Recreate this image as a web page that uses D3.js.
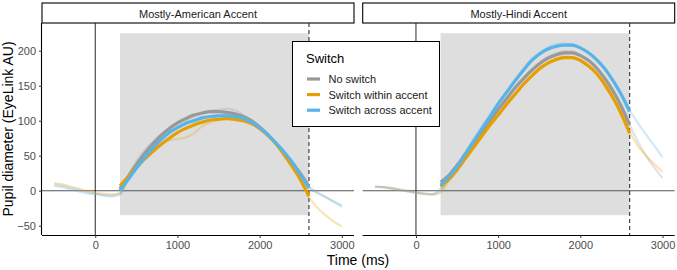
<!DOCTYPE html>
<html><head><meta charset="utf-8">
<script src="https://cdn.jsdelivr.net/npm/d3@7"></script>
<style>
html,body{margin:0;padding:0;background:#fff;}
svg{display:block;font-family:"Liberation Sans",Arial,sans-serif;}
</style></head>
<body><svg id="chart" width="677" height="270"></svg>
<script>
// ---------------- DATA ----------------
const panels = ["Mostly-American Accent", "Mostly-Hindi Accent"];
const seriesNames = ["No switch", "Switch within accent", "Switch across accent"];
const seriesColors = ["#999999", "#E69F00", "#56B4E9"];
const xTicks = [0, 1000, 2000, 3000];
const yTicks = [-50, 0, 50, 100, 150, 200];
const windowStart = 300, windowEnd = 2600, windowLow = -35, windowHigh = 225;

const fitTimes = [300,400,500,600,700,800,900,1000,1100,1200,1300,1400,1500,1600,1700,1800,1900,2000,2100,2200,2300,2400,2500,2600];
const rawTimes = [-500,-400,-300,-200,-100,0,100,200,300,400,500,600,700,800,900,1000,1100,1200,1300,1400,1500,1600,1700,1800,1900,2000,2100,2200,2300,2400,2500,2600,2700,2800,2900,3000];

// fitted curves (thick)
const fitAmNone   = [3,20,37,53,67,79,89,97,103,108,111,113,113,112,110,106,100,91,80,67,53,39,24,6];
const fitAmWithin = [7,20,33,45,56,66,75,83,89,94,98,101,102,103,102,100,96,89,79,67,51,34,15,-8];
const fitAmAcross = [0,16,32,47,61,73,83,90,96,100,104,106,107,107,106,103,98,90,80,68,55,40,22,4];
const fitHiNone   = [12,22,36,52,68,84,100,116,131,146,159,171,181,189,194,197,197,193,186,175,160,142,120,94];
const fitHiWithin = [6,16,30,46,62,78,94,108,123,137,151,163,174,182,187,190,190,186,178,167,151,132,109,82];
const fitHiAcross = [8,20,34,52,70,88,106,124,140,156,171,185,195,202,206,208,208,204,197,187,174,157,137,113];

// raw time courses (faint)
const rawAmNone   = [9,7,4,1,-2,-4,-6,-7,-3,22,42,58,70,80,88,95,100,106,110,114,116,117,115,108,100,90,79,67,53,38,22,4,-3,-9,-15,-21];
const rawAmWithin = [11,9,6,3,0,-3,-4,-5,-4,16,32,46,60,68,72,74,76,82,92,98,101,103,102,99,95,88,78,66,50,32,14,-9,-24,-35,-44,-51];
const rawAmAcross = [7,5,2,-1,-4,-5,-7,-8,-6,18,36,52,64,74,84,91,97,101,104,106,108,108,107,104,98,90,81,69,56,41,24,6,-2,-9,-16,-23];
const rawHiNone   = [6,5,4,2,0,-2,-4,-5,3,22,38,54,70,86,101,117,132,147,160,172,183,191,196,199,199,194,186,175,160,142,120,94,70,50,33,18];
const rawHiWithin = [5,5,3,1,-1,-3,-5,-6,-3,14,28,44,60,76,92,107,122,136,150,163,174,183,189,192,191,187,179,167,152,133,110,84,64,50,38,27];
const rawHiAcross = [6,5,3,1,-1,-3,-4,-5,0,18,35,55,74,92,108,126,142,158,173,187,197,204,209,210,209,204,197,187,174,157,137,115,97,80,64,48];

const fits = [[fitAmNone, fitAmWithin, fitAmAcross],[fitHiNone, fitHiWithin, fitHiAcross]];
const raws = [[rawAmNone, rawAmWithin, rawAmAcross],[rawHiNone, rawHiWithin, rawHiAcross]];

// ---------------- LAYOUT ----------------
const svg = d3.select("#chart");
const panelLeft = [42, 362.7];
const panelW = 312;
const plotTop = 23, plotBottom = 235, stripTop = 3;

const y = d3.scaleLinear().domain([-63.3, 239.6]).range([plotBottom, plotTop]);
const fmt = d3.format("d");

panels.forEach((name, p) => {
  const x = d3.scaleLinear().domain([-648, 3148]).range([panelLeft[p], panelLeft[p] + panelW]);
  const g = svg.append("g");

  // strip
  g.append("rect").attr("x", panelLeft[p]).attr("y", stripTop).attr("width", panelW).attr("height", plotTop - stripTop)
    .attr("fill", "#fff").attr("stroke", "#000").attr("stroke-width", 1.1);
  g.append("text").attr("x", panelLeft[p] + panelW / 2).attr("y", 17.5).attr("text-anchor", "middle")
    .attr("font-size", 11).attr("fill", "#1a1a1a").text(name);

  // analysis window
  g.append("rect").attr("x", x(windowStart)).attr("y", y(windowHigh))
    .attr("width", x(windowEnd) - x(windowStart)).attr("height", y(windowLow) - y(windowHigh))
    .attr("fill", "#dedede");

  // reference lines
  g.append("line").attr("x1", panelLeft[p]).attr("x2", panelLeft[p] + panelW).attr("y1", y(0)).attr("y2", y(0))
    .attr("stroke", "#555").attr("stroke-width", 1.1);
  g.append("line").attr("x1", x(0)).attr("x2", x(0)).attr("y1", plotTop).attr("y2", plotBottom)
    .attr("stroke", "#111").attr("stroke-width", 0.9);
  g.append("line").attr("x1", x(windowEnd)).attr("x2", x(windowEnd)).attr("y1", plotTop).attr("y2", plotBottom)
    .attr("stroke", "#333").attr("stroke-width", 1.1).attr("stroke-dasharray", "4,3");

  // raw lines
  const lineRaw = d3.line().x((d, i) => x(rawTimes[i])).y(d => y(d)).curve(d3.curveMonotoneX);
  raws[p].forEach((s, k) => {
    g.append("path").attr("d", lineRaw(s)).attr("fill", "none").attr("stroke", seriesColors[k])
      .attr("stroke-width", 2.2).attr("stroke-opacity", 0.28).attr("stroke-linejoin", "round");
  });
  // fitted lines
  const lineFit = d3.line().x((d, i) => x(fitTimes[i])).y(d => y(d)).curve(d3.curveMonotoneX);
  fits[p].forEach((s, k) => {
    g.append("path").attr("d", lineFit(s)).attr("fill", "none").attr("stroke", seriesColors[k])
      .attr("stroke-width", 3.2).attr("stroke-linejoin", "round");
  });

  // x axis
  const ax = g.append("g").attr("transform", `translate(0,${plotBottom})`)
    .call(d3.axisBottom(x).tickValues(xTicks).tickFormat(fmt).tickSizeInner(3).tickSizeOuter(0).tickPadding(3));
  ax.select(".domain").attr("stroke", "#000").attr("stroke-width", 1.1)
    .attr("d", `M${panelLeft[p]},0.5H${panelLeft[p] + panelW}`);
  ax.selectAll(".tick line").attr("stroke", "#333");
  ax.selectAll(".tick text").attr("fill", "#4d4d4d").attr("font-size", 11).attr("font-family", "Liberation Sans, Arial, sans-serif");

  if (p === 0) {
    const ay = g.append("g").attr("transform", `translate(${panelLeft[p]},0)`)
      .call(d3.axisLeft(y).tickValues(yTicks).tickFormat(fmt).tickSizeInner(3).tickSizeOuter(0).tickPadding(3));
    ay.select(".domain").attr("stroke", "#000").attr("stroke-width", 1.1)
      .attr("d", `M-0.5,${plotTop}V${plotBottom}`);
    ay.selectAll(".tick line").attr("stroke", "#333");
    ay.selectAll(".tick text").attr("fill", "#4d4d4d").attr("font-size", 11).attr("font-family", "Liberation Sans, Arial, sans-serif");
  }
});

// axis titles
svg.append("text").attr("x", 358).attr("y", 265).attr("text-anchor", "middle").attr("font-size", 14)
  .attr("fill", "#000").text("Time (ms)");
svg.append("text").attr("transform", `translate(13,${(plotTop + plotBottom) / 2}) rotate(-90)`).attr("text-anchor", "middle")
  .attr("font-size", 14).attr("fill", "#000").text("Pupil diameter (EyeLink AU)");

// legend
const lg = svg.append("g");
lg.append("rect").attr("x", 292.5).attr("y", 41.5).attr("width", 147).attr("height", 85)
  .attr("fill", "#fff").attr("stroke", "#000").attr("stroke-width", 1);
lg.append("text").attr("x", 306).attr("y", 63).attr("font-size", 13).attr("fill", "#000").text("Switch");
seriesNames.forEach((n, k) => {
  const yy = 79 + k * 15.6;
  lg.append("line").attr("x1", 307).attr("x2", 320).attr("y1", yy).attr("y2", yy)
    .attr("stroke", seriesColors[k]).attr("stroke-width", 3.2);
  lg.append("text").attr("x", 328.5).attr("y", yy + 4).attr("font-size", 11).attr("fill", "#1a1a1a").text(n);
});
</script></body></html>
